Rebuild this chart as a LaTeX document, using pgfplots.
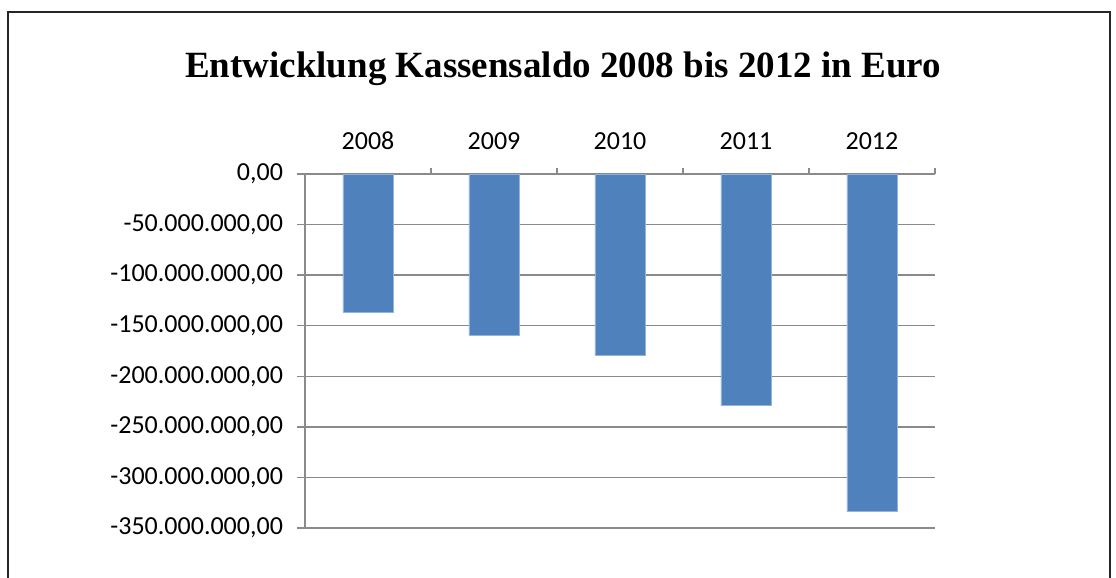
\documentclass[border=0pt]{standalone}
\usepackage{fontspec}
\setmainfont{Carlito}
\newfontfamily\titlefont{Liberation Serif}
\usepackage{pgfplots}
\pgfplotsset{compat=1.18}
\definecolor{barblue}{HTML}{4F81BD}
\definecolor{gridgray}{HTML}{8A8A8A}

\begin{document}
\begin{tikzpicture}
\useasboundingbox (0,0) rectangle (558pt,289pt);
\clip (0,0) rectangle (558pt,289pt);
\draw[line width=0.6pt, black!85] (4pt,283pt) rectangle (555pt,-20pt);
\node[font=\titlefont\bfseries\fontsize{18.5}{20}\selectfont] at (281.5pt,254.5pt)
  {Entwicklung Kassensaldo 2008 bis 2012 in Euro};
\begin{axis}[
  at={(152.5pt,25pt)}, anchor=south west,
  scale only axis, width=315pt, height=177pt,
  ybar, bar width=25pt, bar shift=0pt,
  xmin=-0.5, xmax=4.5, ymin=-350000000, ymax=0,
  axis x line*=top, axis y line*=left,
  axis line style={draw=gridgray, line width=0.7pt},
  tick align=outside,
  xtick={0,...,4},
  xticklabels={2008,2009,2010,2011,2012},
  major x tick style={draw=none},
  minor xtick={0.5,1.5,2.5,3.5,4.5},
  minor x tick style={draw=gridgray, line width=0.7pt},
  minor tick length=3pt,
  ytick={-350000000,-300000000,...,0},
  major y tick style={draw=gridgray, line width=0.7pt},
  major tick length=4pt,
  ymajorgrids,
  grid style={draw=gridgray, line width=0.7pt},
  scaled y ticks=false,
  tick label style={font=\fontsize{13}{15}\selectfont},
  yticklabel style={xshift=-3.5pt, /pgf/number format/.cd, fixed, precision=2,
    fixed zerofill, use comma, 1000 sep={.}, assume math mode=true},
  xticklabel style={yshift=4.5pt},
]
\addplot[fill=barblue, draw=barblue!60!white, line width=0.3pt] coordinates {
  (0, -136600000)
  (1, -159000000)
  (2, -179000000)
  (3, -229100000)
  (4, -333700000)
};
\end{axis}
\end{tikzpicture}
\end{document}
